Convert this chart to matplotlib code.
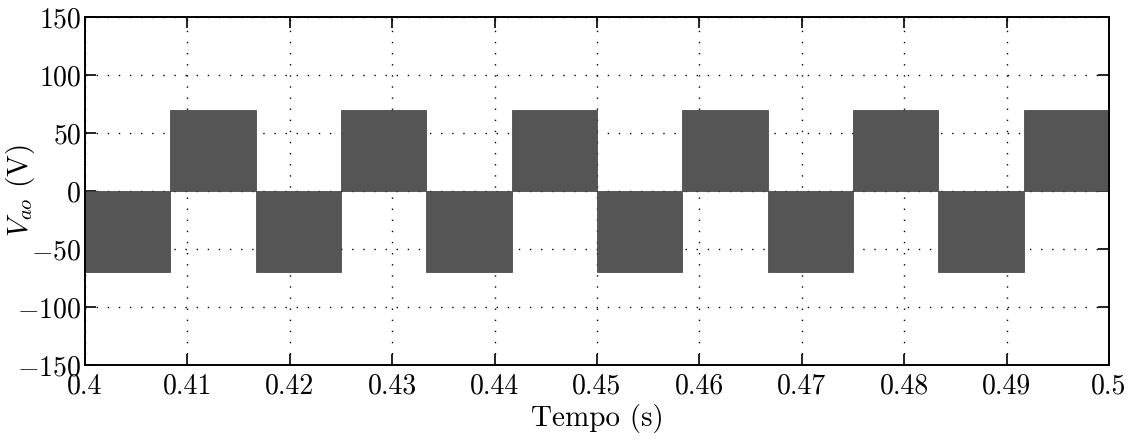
import numpy as np
import matplotlib.pyplot as plt

# block edges (s) and level of each PWM block (V)
edges = [0.4, 0.4083, 0.4167, 0.425, 0.4333, 0.4417, 0.45,
         0.4583, 0.4667, 0.475, 0.4833, 0.4917, 0.5]
levels = [-70, 70, -70, 70, -70, 70, -70, 70, -70, 70, -70, 70]

xticks = [0.4, 0.41, 0.42, 0.43, 0.44, 0.45, 0.46, 0.47, 0.48, 0.49, 0.5]
xticklabels = ['0.4', '0.41', '0.42', '0.43', '0.44', '0.45', '0.46',
               '0.47', '0.48', '0.49', '0.5']
yticks = [-150, -100, -50, 0, 50, 100, 150]

plt.rcParams['font.family'] = 'cmr10'
plt.rcParams['mathtext.fontset'] = 'cm'
plt.rcParams['axes.formatter.use_mathtext'] = True
plt.rcParams['axes.unicode_minus'] = True

fig = plt.figure(figsize=(11.31, 4.41), dpi=100)
ax = fig.add_axes([0.0752, 0.1723, 0.9053, 0.7892])

left = np.array(edges[:-1])
width = np.diff(edges)
ax.bar(left, levels, width=width, align='edge', color='#555555',
       edgecolor='#3a3a3a', linewidth=0.5, zorder=2)

ax.set_xlim(0.4, 0.5)
ax.set_ylim(-150, 150)
ax.set_xticks(xticks)
ax.set_xticklabels(xticklabels)
ax.set_yticks(yticks)
ax.set_yticklabels([r'$-150$', r'$-100$', r'$-50$', '0', '50', '100', '150'])
ax.set_axisbelow(True)
ax.grid(True, color='black', linestyle=(0, (1, 7)), linewidth=1.0)

ax.tick_params(direction='in', length=8, width=1.2, top=True, right=True,
               labelsize=20)
ax.tick_params(axis='x', pad=6)
ax.tick_params(axis='y', pad=3)
for s in ax.spines.values():
    s.set_linewidth(1.4)

ax.set_xlabel('Tempo (s)', fontsize=21, labelpad=3)
ax.set_ylabel(r'$V_{ao}$ (V)', fontsize=21)
ax.yaxis.set_label_coords(-0.047, 0.5)

fig.savefig('out.png', dpi=100)
